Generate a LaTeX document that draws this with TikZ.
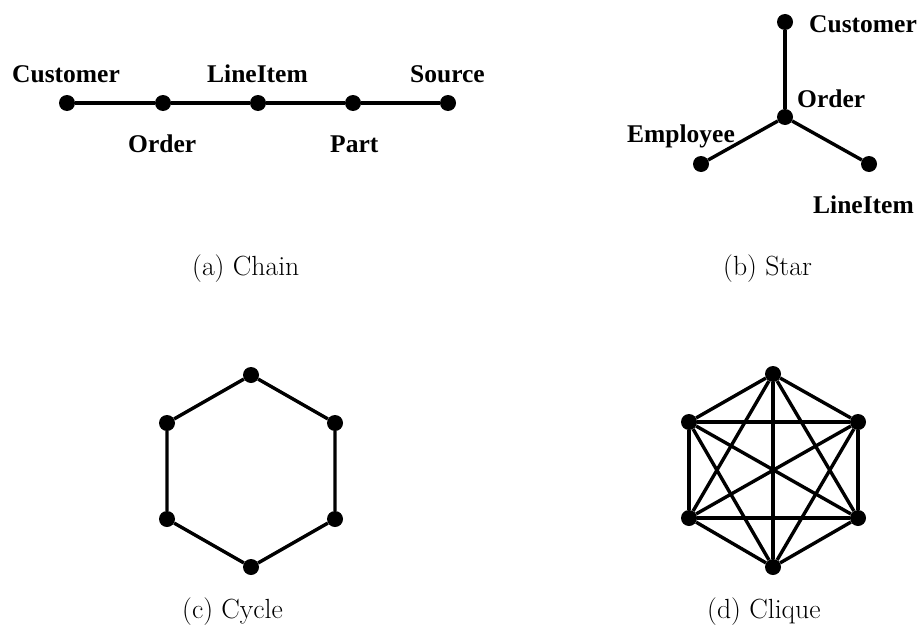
\documentclass[tikz,border=0pt]{standalone}
\usepackage{fontspec}
\newfontfamily\lblfont{Liberation Serif}
\begin{document}
\begin{tikzpicture}[x=1pt,y=-1pt,
  vtx/.style={circle,fill=black,inner sep=0pt,minimum size=16pt},
  edge/.style={line width=3.4pt},
  lbl/.style={anchor=base west,inner sep=0pt,font=\lblfont\bfseries\fontsize{25.5}{28}\selectfont},
  captxt/.style={anchor=base west,inner sep=0pt,font=\fontsize{27.7}{30}\selectfont}]
\useasboundingbox (0,0) rectangle (923,642);
% (a) Chain
\node[vtx] (c1) at (67,103) {};
\node[vtx] (c2) at (163,103) {};
\node[vtx] (c3) at (258,103) {};
\node[vtx] (c4) at (353,103) {};
\node[vtx] (c5) at (448,103) {};
\draw[edge] (c1) -- (c2) -- (c3) -- (c4) -- (c5);
\node[lbl] (lc1) at (12,82) {Customer};
\node[lbl] (lc3) at (207,82) {LineItem};
\node[lbl] (lc5) at (410,82) {Source};
\node[lbl] (lc2) at (128,152) {Order};
\node[lbl] (lc4) at (330,152) {Part};
\node[captxt] (capa) at (192,275) {(a) Chain};
% (b) Star
\node[vtx] (s0) at (785,117) {};
\node[vtx] (s1) at (785,22) {};
\node[vtx] (s2) at (701,164) {};
\node[vtx] (s3) at (869,164) {};
\draw[edge] (s0) -- (s1);
\draw[edge] (s0) -- (s2);
\draw[edge] (s0) -- (s3);
\node[lbl] (ls1) at (809,33) {Customer};
\node[lbl] (ls0) at (797,107) {Order};
\node[lbl] (ls2) at (627,142) {Employee};
\node[lbl] (ls3) at (813,213) {LineItem};
\node[captxt] (capb) at (723,275) {(b) Star};
% (c) Cycle
\node[vtx] (y1) at (251,375) {};
\node[vtx] (y2) at (335,423) {};
\node[vtx] (y3) at (335,519) {};
\node[vtx] (y4) at (251,567) {};
\node[vtx] (y5) at (167,519) {};
\node[vtx] (y6) at (167,423) {};
\draw[edge] (y1) -- (y2) -- (y3) -- (y4) -- (y5) -- (y6) -- (y1);
\node[captxt] (capc) at (182,618) {(c) Cycle};
% (d) Clique
\node[vtx] (q1) at (773,374) {};
\node[vtx] (q2) at (858,422) {};
\node[vtx] (q3) at (858,518) {};
\node[vtx] (q4) at (773,567) {};
\node[vtx] (q5) at (689,518) {};
\node[vtx] (q6) at (689,422) {};
\foreach \a/\b in {q1/q2,q1/q3,q1/q4,q1/q5,q1/q6,q2/q3,q2/q4,q2/q5,q2/q6,q3/q4,q3/q5,q3/q6,q4/q5,q4/q6,q5/q6}
  \draw[edge] (\a) -- (\b);
\node[captxt] (capd) at (707,618) {(d) Clique};
\end{tikzpicture}
\end{document}
